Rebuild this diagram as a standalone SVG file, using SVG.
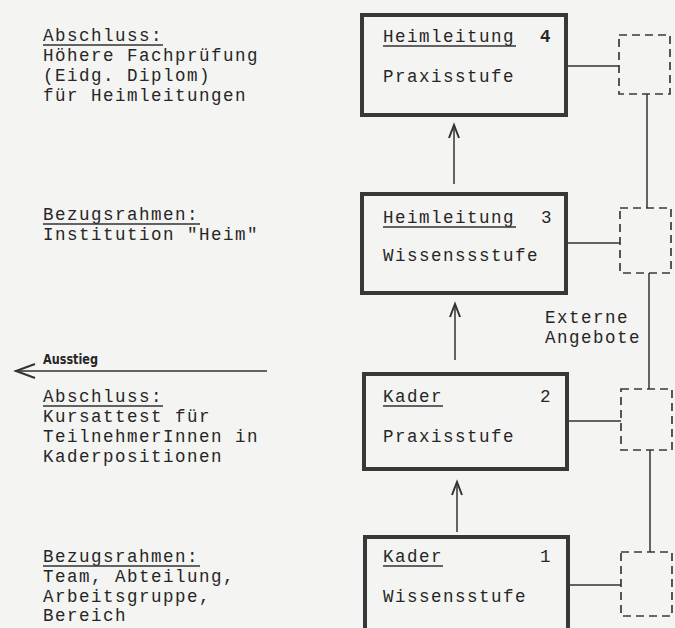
<svg xmlns="http://www.w3.org/2000/svg" width="675" height="628" viewBox="0 0 675 628">
<style>
.t{font-family:"Liberation Mono","Courier New",monospace;font-size:17.5px;letter-spacing:1.5px;fill:#262626}
.box{fill:none;stroke:#383838;stroke-width:4}
.dash{fill:none;stroke:#3a3a3a;stroke-width:1.7;stroke-dasharray:8 5}
.ln{fill:none;stroke:#333;stroke-width:1.5}
.ul{stroke:#333;stroke-width:1.3}
.ah{fill:none;stroke:#333;stroke-width:2;stroke-linejoin:miter}
.small{font-family:"Liberation Sans Narrow","DejaVu Sans Condensed",sans-serif;font-weight:bold;font-size:14px;fill:#262626}
</style>
<rect x="0" y="0" width="675" height="628" fill="#f4f4f2"/>

<g id="label-abschluss-oben">
<text class="t" x="43" y="41">Abschluss:</text>
<line class="ul" x1="43" y1="45" x2="163" y2="45"/>
<text class="t" x="43" y="61">Höhere Fachprüfung</text>
<text class="t" x="43" y="81">(Eidg. Diplom)</text>
<text class="t" x="43" y="101">für Heimleitungen</text>
</g>

<g id="label-bezug-oben">
<text class="t" x="43" y="220">Bezugsrahmen:</text>
<line class="ul" x1="43" y1="224" x2="200" y2="224"/>
<text class="t" x="43" y="240">Institution "Heim"</text>
</g>

<g id="label-ausstieg">
<text class="small" x="43" y="364" textLength="55" lengthAdjust="spacingAndGlyphs">Ausstieg</text>
</g>

<g id="label-abschluss-unten">
<text class="t" x="43" y="402">Abschluss:</text>
<line class="ul" x1="43" y1="406" x2="163" y2="406"/>
<text class="t" x="43" y="422">Kursattest für</text>
<text class="t" x="43" y="442">TeilnehmerInnen in</text>
<text class="t" x="43" y="462">Kaderpositionen</text>
</g>

<g id="label-bezug-unten">
<text class="t" x="43" y="562">Bezugsrahmen:</text>
<line class="ul" x1="43" y1="566" x2="200" y2="566"/>
<text class="t" x="43" y="582">Team, Abteilung,</text>
<text class="t" x="43" y="602">Arbeitsgruppe,</text>
<text class="t" x="43" y="621">Bereich</text>
</g>

<g id="label-externe">
<text class="t" x="545" y="323">Externe</text>
<text class="t" x="545" y="343">Angebote</text>
</g>

<g id="node4">
<rect class="box" x="362" y="15" width="204" height="100"/>
<text class="t" x="383" y="42">Heimleitung</text>
<line class="ul" x1="383" y1="46" x2="516" y2="46"/>
<text class="t" x="540" y="42" font-weight="bold">4</text>
<text class="t" x="383" y="82">Praxisstufe</text>
</g>

<g id="node3">
<rect class="box" x="362" y="194" width="204" height="99"/>
<text class="t" x="383" y="223">Heimleitung</text>
<line class="ul" x1="383" y1="227" x2="516" y2="227"/>
<text class="t" x="541" y="223">3</text>
<text class="t" x="383" y="261">Wissenssstufe</text>
</g>

<g id="node2">
<rect class="box" x="364" y="374" width="203" height="95"/>
<text class="t" x="383" y="402">Kader</text>
<line class="ul" x1="383" y1="406" x2="443" y2="406"/>
<text class="t" x="540" y="402">2</text>
<text class="t" x="383" y="442">Praxisstufe</text>
</g>

<g id="node1">
<rect class="box" x="365" y="537" width="203" height="110"/>
<text class="t" x="383" y="562">Kader</text>
<line class="ul" x1="383" y1="566" x2="443" y2="566"/>
<text class="t" x="540" y="562">1</text>
<text class="t" x="383" y="602">Wissensstufe</text>
</g>

<g id="ext4"><rect class="dash" x="619" y="35" width="51" height="59"/></g>
<g id="ext3"><rect class="dash" x="620" y="208" width="51" height="65"/></g>
<g id="ext2"><rect class="dash" x="621" y="389" width="51" height="61"/></g>
<g id="ext1"><rect class="dash" x="621" y="552" width="51" height="64"/></g>

<g id="connectors">
<line class="ln" x1="15" y1="371" x2="267" y2="371" stroke-width="2"/>
<polyline class="ah" points="35,364 16,371 35,378"/>

<line class="ln" x1="454" y1="184" x2="454" y2="127"/>
<polyline class="ah" points="449,138 454,125 459,138"/>
<line class="ln" x1="455" y1="360" x2="455" y2="306"/>
<polyline class="ah" points="450,317 455,304 460,317"/>
<line class="ln" x1="457" y1="532" x2="457" y2="484"/>
<polyline class="ah" points="452,495 457,482 462,495"/>

<line class="ln" x1="568" y1="66" x2="619" y2="66"/>
<line class="ln" x1="568" y1="243" x2="620" y2="243"/>
<line class="ln" x1="569" y1="421" x2="621" y2="421"/>
<line class="ln" x1="570" y1="585" x2="621" y2="585"/>

<line class="ln" x1="647" y1="94" x2="647" y2="208"/>
<line class="ln" x1="649" y1="273" x2="649" y2="389"/>
<line class="ln" x1="650" y1="450" x2="650" y2="552"/>
</g>
</svg>
